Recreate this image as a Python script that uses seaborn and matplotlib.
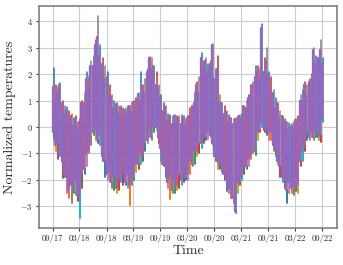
import pandas as pd
import matplotlib
matplotlib.use('Agg')
import matplotlib.pyplot as plt
import matplotlib.dates as mdates
import seaborn as sns

# Half-monthly readings of the band (Sep 2017 .. Sep 2022)
dates = pd.date_range('2017-09-01', '2022-09-01', freq='SMS')
# the other stations peak a week off the purple one
tip_dates = dates + pd.Timedelta(days=7)

# top of all stations
upper = [2.25, 1.6, 1.5, 1.65, 1.0, 0.8, 0.75, 0.6, 0.5, 0.35, 0.4, 0.2,
         0.3, 1.0, 1.3, 2.1, 1.9, 2.5, 2.7, 3.3, 4.2, 3.1, 2.6, 2.3,
         2.1, 1.6, 1.2, 1.0, 0.9, 0.8, 0.8, 0.7, 0.7, 0.8, 0.8, 0.9,
         1.0, 1.1, 1.3, 2.1, 1.6, 1.8, 2.2, 2.65, 2.6, 2.3, 2.1, 1.6,
         1.2, 0.9, 0.8, 0.5, 0.45, 0.4, 0.45, 0.4, 0.4, 0.45, 0.4, 0.3,
         0.4, 0.7, 0.8, 1.3, 1.7, 1.9, 2.8, 2.5, 2.6, 2.4, 2.5, 3.15,
         2.2, 2.7, 1.2, 0.9, 0.8, 0.6, 0.45, 0.35, 0.3, 0.35, 0.4, 0.45,
         0.5, 0.8, 1.0, 1.2, 1.6, 1.7, 2.3, 2.3, 2.2, 3.9, 2.6, 3.0,
         2.1, 1.9, 1.4, 1.1, 0.9, 0.6, 0.4, 0.3, 0.2, 0.15, 0.1, 0.2,
         0.3, 0.4, 1.2, 1.4, 1.7, 1.6, 1.8, 2.0, 3.0, 2.7, 2.6, 3.3,
         2.6]
# top of the last station (purple)
core_upper = [1.5, 1.0, 1.3, 1.6, 0.9, 0.5, 0.65, 0.3, 0.4, 0.05, 0.25, -0.1,
              0.2, 0.9, 0.9, 1.8, 1.5, 2.3, 2.3, 3.1, 3.4, 2.7, 2.4, 1.8,
              1.9, 1.2, 1.1, 0.7, 0.85, 0.5, 0.7, 0.4, 0.65, 0.5, 0.8, 0.55,
              0.95, 0.7, 1.25, 1.0, 1.5, 1.3, 2.1, 2.6, 2.2, 2.3, 1.6, 1.5,
              1.1, 0.6, 0.75, 0.2, 0.35, 0.1, 0.4, 0.15, 0.35, 0.1, 0.3, 0.05,
              0.35, 0.4, 0.8, 0.9, 1.6, 1.3, 2.6, 2.0, 2.5, 2.1, 2.4, 3.1,
              1.8, 2.2, 0.9, 0.9, 0.5, 0.55, 0.2, 0.35, 0.1, 0.3, 0.15, 0.4,
              0.3, 0.8, 0.7, 1.1, 1.2, 1.6, 1.9, 2.1, 1.8, 3.75, 2.1, 2.5,
              1.9, 1.5, 1.3, 0.7, 0.85, 0.35, 0.4, 0.1, 0.2, -0.1, 0.05, -0.05,
              0.25, 0.2, 1.0, 1.0, 1.6, 1.2, 1.7, 1.6, 2.9, 2.4, 2.6, 2.9,
              2.4]
# bottom of the last station (purple)
core_lower = [-0.2, -0.7, -0.6, -1.1, -1.3, -1.8, -1.9, -2.4, -2.2, -2.4, -2.0, -2.6,
              -2.6, -1.8, -1.6, -1.0, -0.9, -0.4, -0.2, -0.1, -0.5, -0.3, -1.1, -1.3,
              -1.8, -1.7, -2.1, -1.9, -2.3, -1.9, -2.0, -1.7, -2.1, -1.8, -2.2, -1.8,
              -1.9, -1.4, -1.4, -1.0, -1.1, -0.6, -0.5, -0.1, -0.4, 0.05, 0.0, -0.4,
              -0.8, -1.4, -1.5, -2.1, -1.9, -2.4, -2.0, -2.2, -1.8, -2.0, -1.7, -1.9,
              -1.8, -1.3, -1.4, -0.9, -0.9, -0.6, -0.6, -0.3, -0.4, -0.2, -0.3, -0.6,
              -1.1, -1.3, -1.4, -1.4, -1.8, -2.0, -2.3, -2.3, -2.7, -3.2, -2.1, -2.1,
              -1.9, -1.5, -1.5, -1.2, -1.1, -0.7, -0.9, -0.2, -0.1, 0.2, -0.1, 0.0,
              -0.2, -0.2, -0.7, -0.8, -1.3, -1.5, -1.9, -2.0, -2.4, -2.1, -2.3, -2.2,
              -2.3, -2.2, -1.3, -0.9, -0.7, -0.2, -0.4, -0.1, -0.4, -0.1, -0.4, -0.3,
              0.3]
# bottom of all stations
lower = [-0.45, -0.9, -1.2, -1.1, -1.95, -1.9, -2.5, -2.7, -2.9, -2.5, -2.6, -2.8,
         -3.45, -2.3, -1.8, -1.5, -1.0, -0.7, -0.3, -0.5, -0.6, -0.7, -1.3, -1.9,
         -2.0, -2.1, -2.3, -2.4, -2.5, -2.4, -2.1, -2.2, -2.2, -2.3, -2.97, -2.2,
         -2.0, -1.7, -1.6, -1.4, -1.3, -0.9, -0.6, -0.4, -0.5, -0.2, -0.1, -0.6,
         -1.3, -1.5, -1.9, -2.3, -2.75, -2.5, -2.5, -2.4, -2.3, -2.2, -2.1, -2.0,
         -2.0, -1.8, -1.5, -1.4, -1.1, -1.0, -0.8, -0.6, -0.5, -0.45, -0.4, -0.7,
         -1.3, -1.6, -1.6, -1.7, -2.0, -2.45, -2.5, -2.7, -2.9, -3.25, -2.5, -2.2,
         -2.0, -1.8, -1.6, -1.5, -1.2, -1.0, -1.06, -0.5, -0.2, 0.0, -0.2, -0.3,
         -0.5, -0.5, -0.9, -1.1, -1.4, -1.9, -2.1, -2.3, -2.87, -2.5, -2.5, -2.6,
         -2.45, -2.5, -1.5, -1.3, -0.9, -0.5, -0.5, -0.4, -0.5, -0.4, -0.5, -0.56,
         0.2]

stations = [f'S{i}' for i in range(10)]
palette = dict(zip(stations, sns.color_palette('tab10', 10)))
edge_stations = [s for s in stations if s != 'S4']

# vertical segments: coloured stations over the full range, bottom tips in
# another colour, purple core drawn last
rows = []
for j in range(len(dates)):
    top = edge_stations[(3 * j) % 9]
    bot = edge_stations[(5 * j + 2) % 9]
    rows += [(f't{j}', top, tip_dates[j], lower[j]), (f't{j}', top, tip_dates[j], upper[j])]
    rows += [(f'b{j}', bot, tip_dates[j], lower[j]), (f'b{j}', bot, tip_dates[j], core_lower[j])]
    rows += [(f'c{j}', 'S4', dates[j], core_lower[j]), (f'c{j}', 'S4', dates[j], core_upper[j])]
df = pd.DataFrame(rows, columns=['seg', 'station', 'time', 'value'])

sns.set_style('whitegrid', {'grid.color': '#cccccc', 'axes.edgecolor': '#808080'})
plt.rcParams['font.family'] = ['cmr10', 'DejaVu Serif']
plt.rcParams['mathtext.fontset'] = 'cm'
plt.rcParams['axes.formatter.use_mathtext'] = True

fig = plt.figure(figsize=(3.43, 2.65), dpi=100)
ax = fig.add_axes([0.114, 0.140, 0.868, 0.837])

edge = df[df.station != 'S4']
sns.lineplot(data=edge[edge.seg.str.startswith('t')], x='time', y='value', hue='station',
             units='seg', estimator=None, palette=palette, lw=1.1,
             legend=False, sort=False, ax=ax)
sns.lineplot(data=edge[edge.seg.str.startswith('b')], x='time', y='value', hue='station',
             units='seg', estimator=None, palette=palette, lw=1.1,
             legend=False, sort=False, ax=ax)
sns.lineplot(data=df[df.station == 'S4'], x='time', y='value',
             units='seg', estimator=None, color=palette['S4'], lw=1.65,
             legend=False, sort=False, ax=ax)

ax.xaxis.set_major_locator(mdates.MonthLocator(bymonth=(3, 9)))
ax.xaxis.set_major_formatter(mdates.DateFormatter('%m/%y'))
ax.set_yticks(range(-3, 5))
ax.margins(x=0.05, y=0.05)
ax.grid(True, color='#cccccc', lw=0.8)
for sp in ax.spines.values():
    sp.set_linewidth(1.2)
    sp.set_color('#808080')
ax.tick_params(axis='both', labelsize=6.2, length=2.5, width=0.8,
               color='#333333', pad=2, bottom=True, left=True)
ax.set_xlabel('Time', fontsize=10, labelpad=1)
ax.set_ylabel('Normalized temperatures', fontsize=10, labelpad=3)

fig.savefig('out.png', dpi=100)
